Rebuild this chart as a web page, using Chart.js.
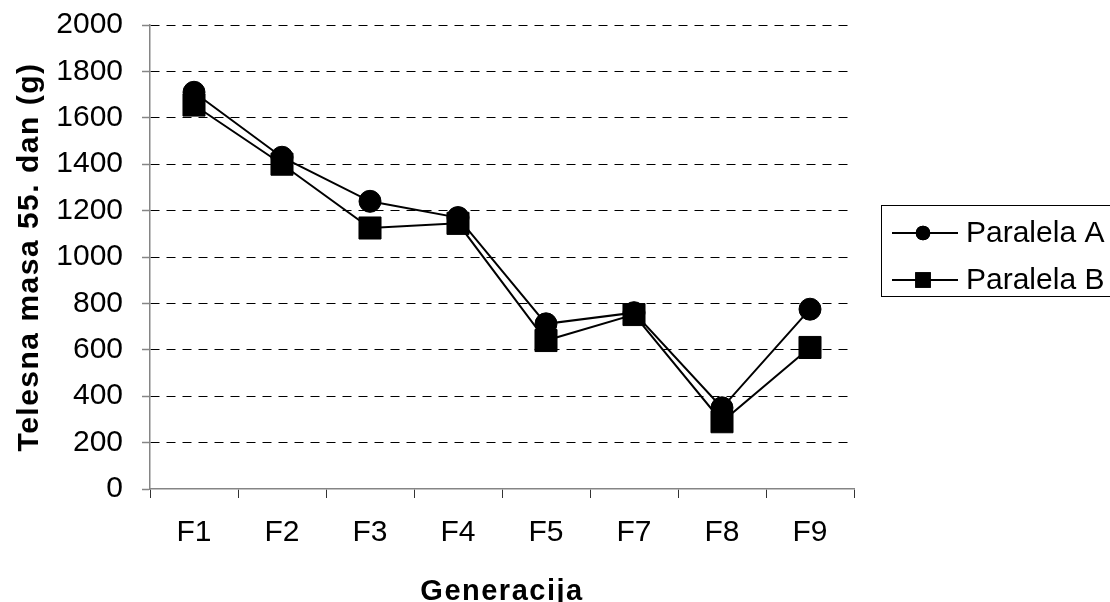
<!DOCTYPE html>
<html>
<head>
<meta charset="utf-8">
<script src="https://cdn.jsdelivr.net/npm/chart.js@4/dist/chart.umd.min.js"></script>
<style>
  html, body { margin: 0; padding: 0; background: #fff; }
  #wrap { width: 1110px; height: 602px; }
</style>
</head>
<body>
<div id="wrap"><canvas id="c" width="1110" height="602"></canvas></div>
<script>
// Generations on the x axis
const generations = ['F1', 'F2', 'F3', 'F4', 'F5', 'F7', 'F8', 'F9'];
// Body mass at day 55 (g), two parallel groups
const paralelaA = [1710, 1430, 1240, 1170, 712, 760, 350, 775];
const paralelaB = [1655, 1400, 1125, 1145, 640, 752, 290, 610];
const seriesNames = ['Paralela A', 'Paralela B'];
const yTitle = 'Telesna masa 55. dan (g)';
const xTitle = 'Generacija';

const FONT = "'Liberation Sans', Arial, Helvetica, sans-serif";

// Axis titles get a little extra tracking; everything else is drawn normally
const trackingPlugin = {
  id: 'tracking',
  beforeDraw(chart) { chart.ctx.letterSpacing = '1.5px'; },
  beforeDatasetsDraw(chart) { chart.ctx.letterSpacing = '0px'; }
};

// Boxed legend with a line running through each marker
const boxLegend = {
  id: 'boxLegend',
  afterDraw(chart) {
    const ctx = chart.ctx;
    ctx.save();
    ctx.letterSpacing = '0px';
    ctx.strokeStyle = '#000';
    ctx.lineWidth = 1;
    ctx.strokeRect(881.5, 205.5, 240, 91);
    const rows = [233, 280];
    chart.data.datasets.forEach((ds, i) => {
      const y = rows[i];
      ctx.beginPath();
      ctx.lineWidth = 2;
      ctx.strokeStyle = '#000';
      ctx.moveTo(892, y);
      ctx.lineTo(958, y);
      ctx.stroke();
      Chart.helpers.drawPoint(ctx, {
        pointStyle: ds.pointStyle,
        radius: ds.pointStyle === 'rect' ? 11 : 7.3,
        borderWidth: 0
      }, 923, y);
      ctx.fillStyle = '#000';
      ctx.fill();
      ctx.font = '30px ' + FONT;
      ctx.textBaseline = 'middle';
      ctx.textAlign = 'left';
      ctx.fillText(ds.label, 966, y + 1);
    });
    ctx.restore();
  }
};

new Chart(document.getElementById('c'), {
  type: 'line',
  data: {
    labels: generations,
    datasets: [
      {
        label: seriesNames[0],
        data: paralelaA,
        borderColor: '#000',
        backgroundColor: '#000',
        borderWidth: 2,
        pointStyle: 'circle',
        pointRadius: 11,
        pointBorderWidth: 1,
        pointBackgroundColor: '#000',
        pointBorderColor: '#000',
        tension: 0,
        clip: false
      },
      {
        label: seriesNames[1],
        data: paralelaB,
        borderColor: '#000',
        backgroundColor: '#000',
        borderWidth: 2,
        pointStyle: 'rect',
        pointRadius: 15.6,
        pointBorderWidth: 1,
        pointBackgroundColor: '#000',
        pointBorderColor: '#000',
        tension: 0,
        clip: false
      }
    ]
  },
  options: {
    responsive: false,
    animation: false,
    events: [],
    layout: { padding: { top: 25, right: 256, left: 0, bottom: 0 } },
    plugins: {
      legend: { display: false },
      tooltip: { enabled: false }
    },
    scales: {
      x: {
        type: 'category',
        offset: true,
        afterFit(scale) { scale.height = 113; },
        border: { display: true, color: '#858585', width: 1.5 },
        grid: {
          display: true,
          offset: true,
          drawOnChartArea: false,
          drawTicks: true,
          tickLength: 9,
          tickColor: '#333',
          tickWidth: 1
        },
        ticks: {
          z: 1,
          color: '#000',
          padding: 17,
          maxRotation: 0,
          font: { family: FONT, size: 30 }
        },
        title: {
          display: true,
          text: xTitle,
          color: '#000',
          font: { family: FONT, size: 29, weight: 'bold', lineHeight: 0.83 },
          padding: { top: 0, bottom: -2 }
        }
      },
      y: {
        min: 0,
        max: 2000,
        afterFit(scale) {
          scale.width = 150;
          scale.paddingTop = 0;
          scale.paddingBottom = 0;
        },
        border: { display: true, color: '#858585', width: 1.5, dash: [9, 7] },
        grid: {
          color: (c) => (c.tick && c.tick.value === 0) ? 'rgba(0,0,0,0)' : '#000',
          lineWidth: 1,
          drawTicks: true,
          tickLength: 8,
          tickColor: '#858585',
          tickWidth: 1.5,
          tickBorderDash: []
        },
        ticks: {
          z: 1,
          stepSize: 200,
          color: '#000',
          padding: 19,
          font: { family: FONT, size: 30 },
          callback: (v) => String(v)
        },
        title: {
          display: true,
          text: yTitle,
          color: '#000',
          font: { family: FONT, size: 30, weight: 'bold', lineHeight: 1.2 },
          padding: { top: 12, bottom: 0 }
        }
      }
    }
  },
  plugins: [trackingPlugin, boxLegend]
});
</script>
</body>
</html>
